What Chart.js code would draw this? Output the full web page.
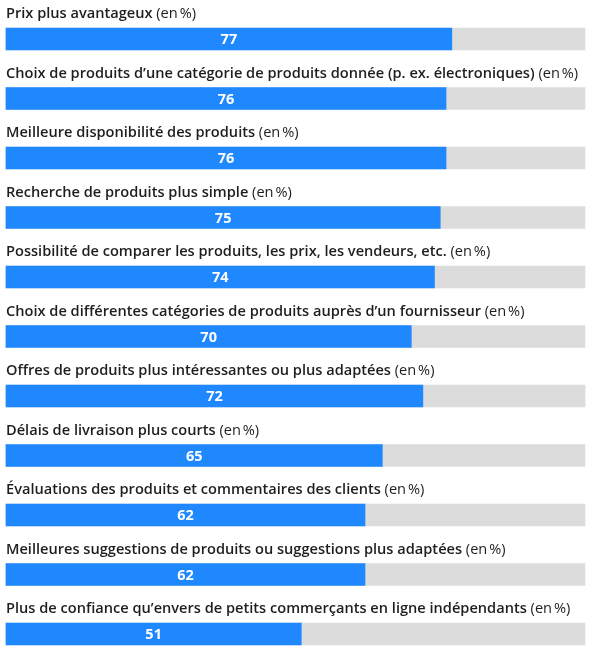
<!DOCTYPE html>
<html lang="fr">
<head>
<meta charset="utf-8">
<title>Avantages</title>
<script src="https://cdn.jsdelivr.net/npm/chart.js@4/dist/chart.umd.min.js"></script>
<style>
  html, body { margin: 0; padding: 0; background: #fff; }
  #wrap { width: 600px; height: 660px; position: relative; }
</style>
</head>
<body>
<div id="wrap"><canvas id="chart"></canvas></div>
<script>
// Données
const categories = [
    'Prix plus avantageux',
    'Choix de produits d\u2019une catégorie de produits donnée (p. ex. électroniques)',
    'Meilleure disponibilité des produits',
    'Recherche de produits plus simple',
    'Possibilité de comparer les produits, les prix, les vendeurs, etc.',
    'Choix de différentes catégories de produits auprès d\u2019un fournisseur',
    'Offres de produits plus intéressantes ou plus adaptées',
    'Délais de livraison plus courts',
    'Évaluations des produits et commentaires des clients',
    'Meilleures suggestions de produits ou suggestions plus adaptées',
    'Plus de confiance qu\u2019envers de petits commerçants en ligne indépendants'
];
const values = [77, 76, 76, 75, 74, 70, 72, 65, 62, 62, 51];
const unitLabel = '(en\u202f%)';
const maxValue = 100;

const blue = '#1f88fe';
const grey = '#dcdcdc';
const textColor = '#1e1e1e';
const fontFamily = '"Open Sans", "Noto Sans", sans-serif';

// Libellés au-dessus des barres et valeurs dans les barres
const labelsPlugin = {
    id: 'rowLabels',
    afterDatasetsDraw(chart) {
        const ctx = chart.ctx;
        const xScale = chart.scales.x;
        const yScale = chart.scales.y;
        const left = chart.chartArea.left;
        ctx.save();
        ctx.textBaseline = 'middle';
        categories.forEach((cat, i) => {
            const y = yScale.getPixelForValue(i);
            // libellé
            ctx.textAlign = 'left';
            ctx.fillStyle = textColor;
            ctx.font = '600 14.6px ' + fontFamily;
            ctx.fillText(cat, left, y - 25);
            const w = ctx.measureText(cat + ' ').width;
            ctx.font = '400 14.6px ' + fontFamily;
            ctx.fillText(unitLabel, left + w, y - 25);
            // valeur
            const x0 = xScale.getPixelForValue(0);
            const x1 = xScale.getPixelForValue(values[i]);
            ctx.textAlign = 'center';
            ctx.fillStyle = '#ffffff';
            ctx.font = '700 14.5px ' + fontFamily;
            ctx.fillText(String(values[i]), (x0 + x1) / 2, y + 1);
        });
        ctx.restore();
    }
};

const ctx = document.getElementById('chart').getContext('2d');
const chart = new Chart(ctx, {
    type: 'bar',
    data: {
        labels: categories,
        datasets: [{
            data: values,
            backgroundColor: blue,
            barThickness: 22,
            grouped: false,
            clip: false
        }, {
            data: categories.map(() => maxValue),
            backgroundColor: grey,
            barThickness: 22,
            grouped: false,
            clip: false
        }]
    },
    options: {
        indexAxis: 'y',
        responsive: true,
        maintainAspectRatio: false,
        animation: false,
        layout: {
            padding: { left: 6, right: 15, top: 39, bottom: 26 }
        },
        plugins: {
            legend: { display: false },
            tooltip: { enabled: false }
        },
        scales: {
            x: { display: false, min: 0, max: maxValue },
            y: { display: false, offset: false }
        }
    },
    plugins: [labelsPlugin]
});
</script>
</body>
</html>
